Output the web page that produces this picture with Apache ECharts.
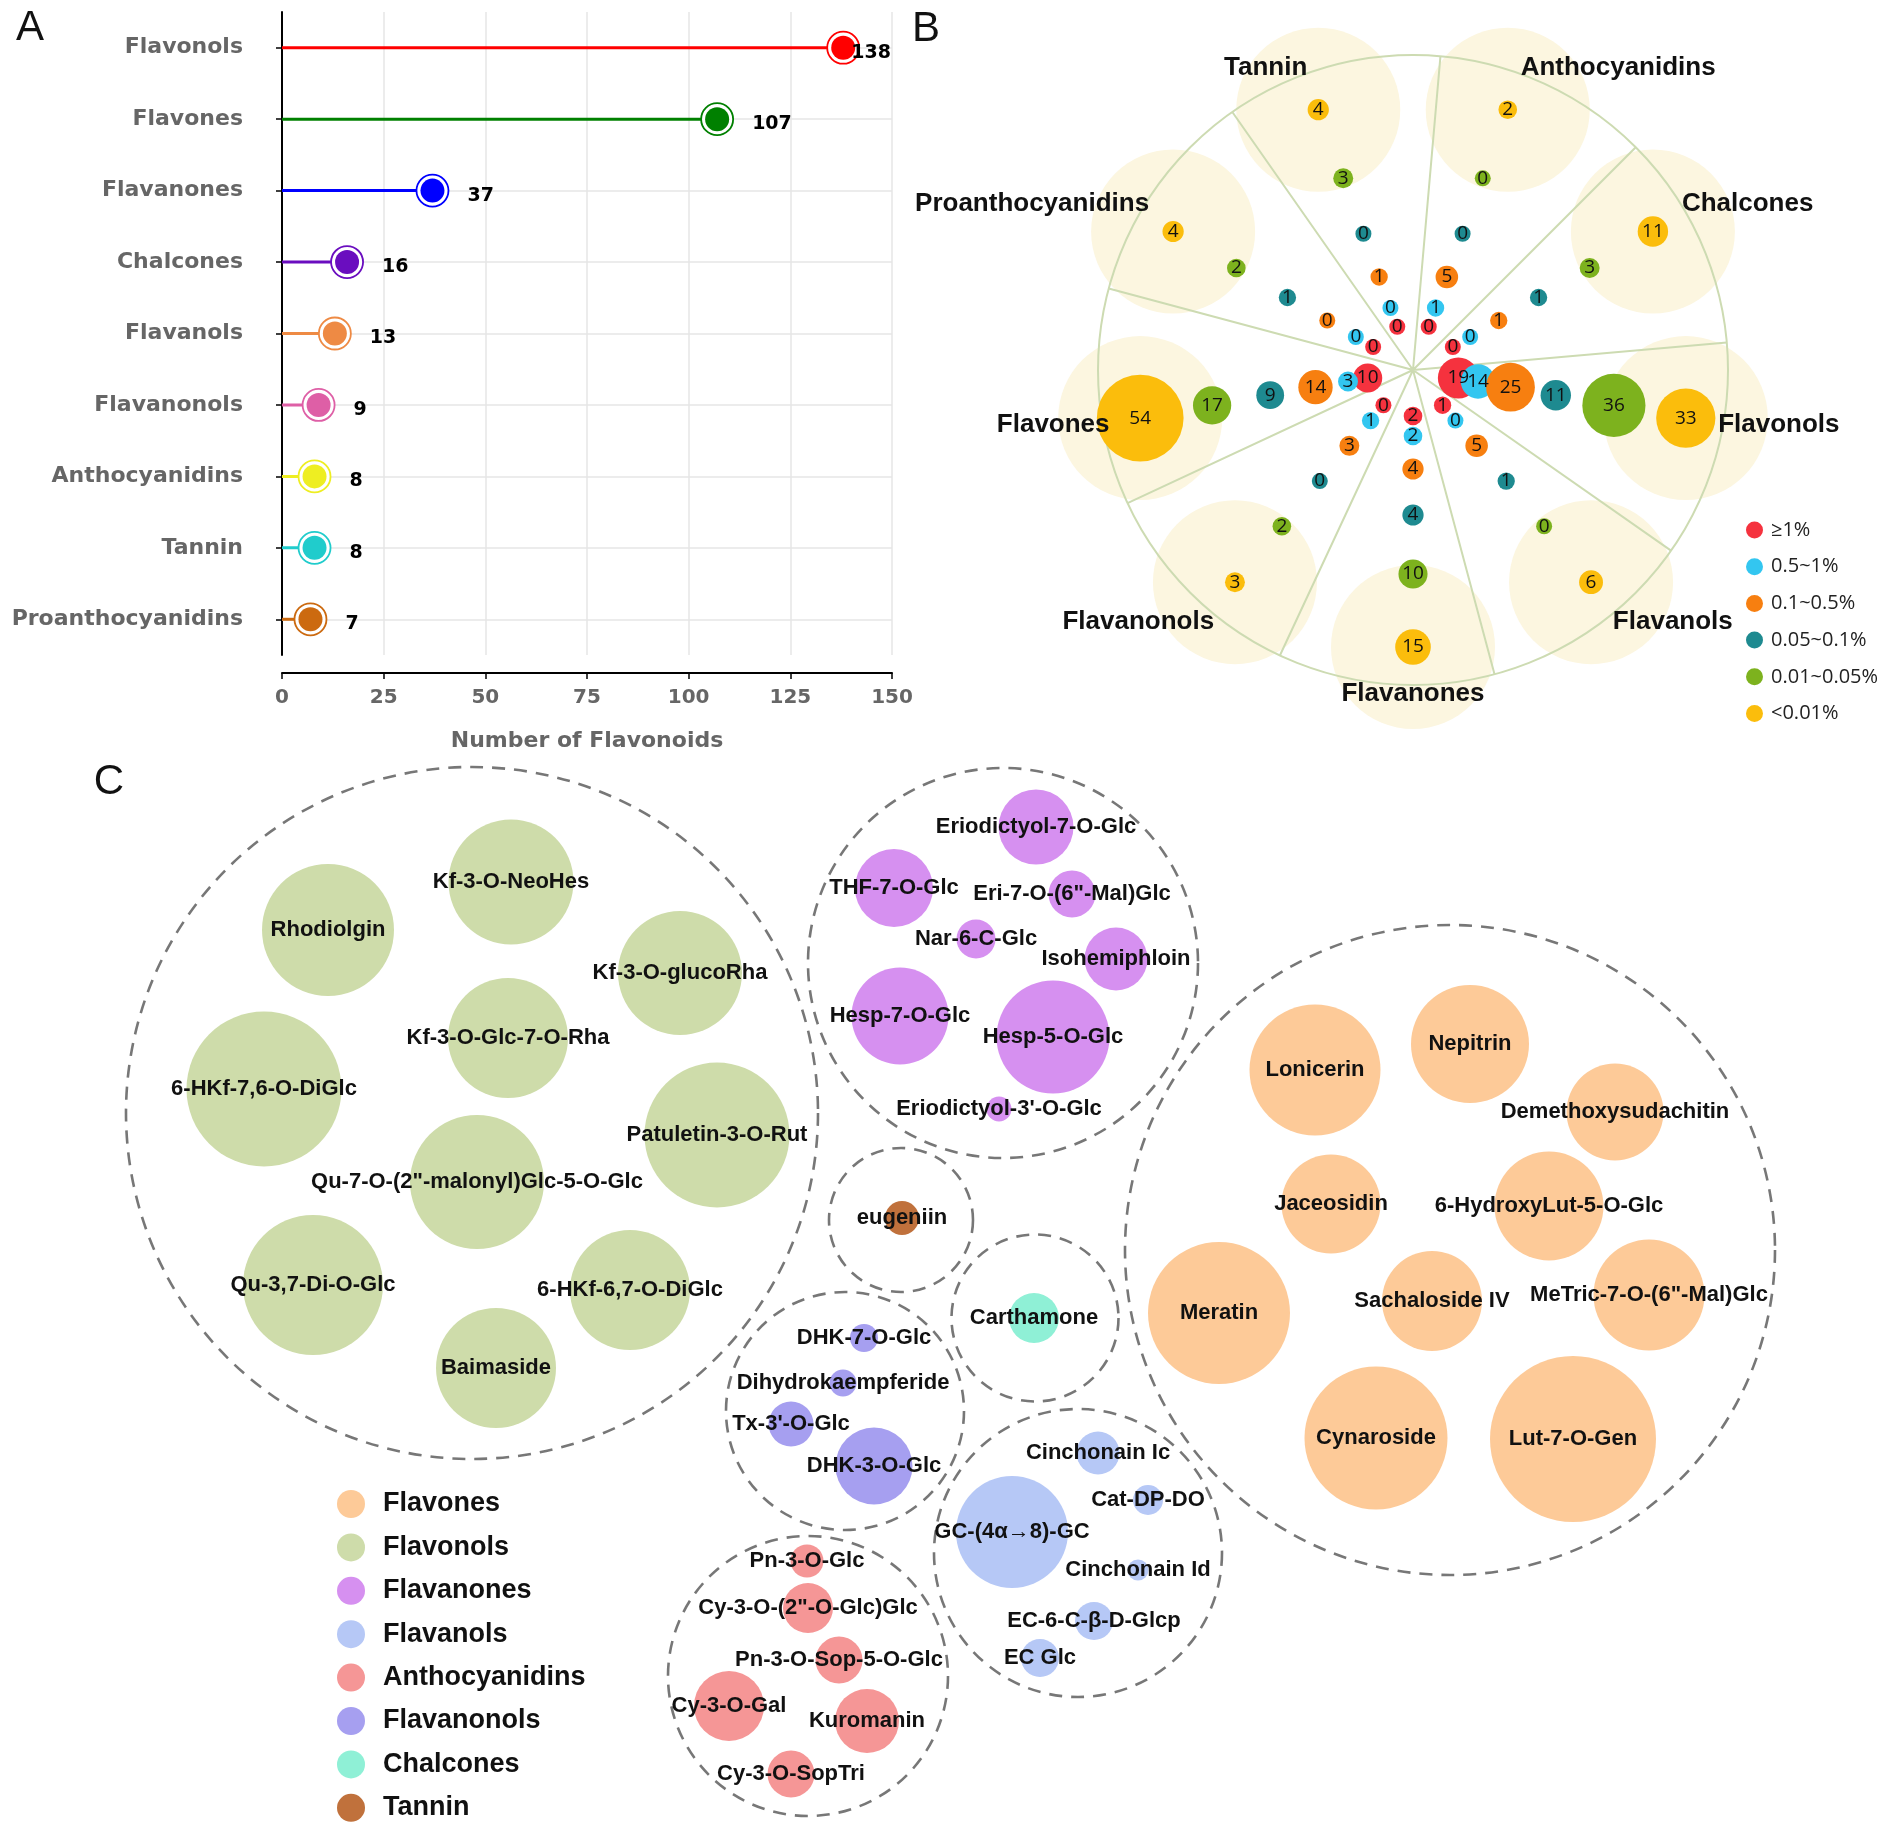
<!DOCTYPE html>
<html><head><meta charset="utf-8">
<script src="https://cdn.jsdelivr.net/npm/echarts@6/dist/echarts.min.js"></script>
<style>html,body{margin:0;padding:0;background:#fff}#c{width:1902px;height:1825px}</style>
</head><body><div id="c"></div>
<script>
// ---------- Panel A data ----------
const catsA = ['Flavonols','Flavones','Flavanones','Chalcones','Flavanols','Flavanonols','Anthocyanidins','Tannin','Proanthocyanidins'];
const countsA = [138,107,37,16,13,9,8,8,7];
const colorsA = ['#ff0000','#008000','#0000ff','#6a0dbf','#ee8a44','#de5fa6','#eeee22','#20cccc','#cc6a10'];
const xTicksA = [0,25,50,75,100,125,150];

// ---------- Panel B data (category order around the circle) ----------
const catsB = ['Chalcones','Anthocyanidins','Tannin','Proanthocyanidins','Flavones','Flavanonols','Flavanones','Flavanols','Flavonols'];
const levelsB = ['≥1%','0.5~1%','0.1~0.5%','0.05~0.1%','0.01~0.05%','<0.01%'];
const bGe1      = [0,0,0,0,10,0,2,1,19];
const b05to1    = [0,1,0,0,3,1,2,0,14];
const b01to05   = [1,5,1,0,14,3,4,5,25];
const b005to01  = [1,0,0,1,9,0,4,1,11];
const b001to005 = [3,0,3,2,17,2,10,0,36];
const bLt001    = [11,2,4,4,54,3,15,6,33];
const levelData = [bGe1,b05to1,b01to05,b005to01,b001to005,bLt001];
const levelColors = ['#f5323e','#33c6f0','#f77f10','#1e8a90','#7db21e','#fbbd0c'];

// ---------- Panel C data ----------
const cGroups = ['Flavones','Flavonols','Flavanones','Flavanols','Anthocyanidins','Flavanonols','Chalcones','Tannin'];
const cColors = ['#fdca98','#cedcaa','#d690f0','#b6c8f6','#f59696','#a69ff0','#8ff0d6','#c0713c'];
const cFlavones = ['Lonicerin','Nepitrin','Demethoxysudachitin','Jaceosidin','6-HydroxyLut-5-O-Glc','Meratin','Sachaloside IV','MeTric-7-O-(6"-Mal)Glc','Cynaroside','Lut-7-O-Gen'];
const cFlavonesSize = [131,118,97,99,109,142,100,111,143,166];
const cFlavonols = ['Rhodiolgin','Kf-3-O-NeoHes','Kf-3-O-glucoRha','Kf-3-O-Glc-7-O-Rha','6-HKf-7,6-O-DiGlc','Patuletin-3-O-Rut','Qu-7-O-(2"-malonyl)Glc-5-O-Glc','Qu-3,7-Di-O-Glc','6-HKf-6,7-O-DiGlc','Baimaside'];
const cFlavonolsSize = [132,125,124,120,155,145,134,140,120,120];
const cFlavanones = ['Eriodictyol-7-O-Glc','THF-7-O-Glc','Eri-7-O-(6"-Mal)Glc','Nar-6-C-Glc','Isohemiphloin','Hesp-7-O-Glc','Hesp-5-O-Glc',"Eriodictyol-3'-O-Glc"];
const cFlavanonesSize = [75,78,47,39,63,97,113,25];
const cFlavanols = ['Cinchonain Ic','Cat-DP-DO','GC-(4α→8)-GC','Cinchonain Id','EC-6-C-β-D-Glcp','EC Glc'];
const cFlavanolsSize = [43,30,112,21,38,38];
const cAnthocyanidins = ['Pn-3-O-Glc','Cy-3-O-(2"-O-Glc)Glc','Pn-3-O-Sop-5-O-Glc','Cy-3-O-Gal','Kuromanin','Cy-3-O-SopTri'];
const cAnthocyanidinsSize = [33,50,47,70,64,47];
const cFlavanonols = ['DHK-7-O-Glc','Dihydrokaempferide',"Tx-3'-O-Glc",'DHK-3-O-Glc'];
const cFlavanonolsSize = [28,27,45,77];
const cChalcones = ['Carthamone'];
const cChalconesSize = [50];
const cTannin = ['eugeniin'];
const cTanninSize = [34];

// ---------- layout (packed positions) ----------
const cFlavonesPos = [[1315,1070],[1470,1044],[1615,1112],[1331,1204],[1549,1206],[1219,1313],[1432,1301],[1649,1295],[1376,1438],[1573,1439]];
const cFlavonolsPos = [[328,930],[511,882],[680,973],[508,1038],[264,1089],[717,1135],[477,1182],[313,1285],[630,1290],[496,1368]];
const cFlavanonesPos = [[1036,827],[894,888],[1072,894],[976,939],[1116,959],[900,1016],[1053,1037],[999,1109]];
const cFlavanolsPos = [[1098,1453],[1148,1500],[1012,1532],[1138,1570],[1094,1621],[1040,1658]];
const cAnthocyanidinsPos = [[807,1561],[808,1608],[839,1660],[729,1706],[867,1721],[791,1774]];
const cFlavanonolsPos = [[864,1338],[843,1383],[791,1424],[874,1466]];
const cChalconesPos = [[1034,1318]];
const cTanninPos = [[902,1218]];
const cGroupPos = [[1450,1250],[472,1113],[1003,963],[1078,1553],[808,1676],[845,1411],[1035,1318],[901,1220]];
const cGroupDiam = [650,692,390,288,280,238,167,144];

const cNames = [cFlavones,cFlavonols,cFlavanones,cFlavanols,cAnthocyanidins,cFlavanonols,cChalcones,cTannin];
const cSizes = [cFlavonesSize,cFlavonolsSize,cFlavanonesSize,cFlavanolsSize,cAnthocyanidinsSize,cFlavanonolsSize,cChalconesSize,cTanninSize];
const cPos = [cFlavonesPos,cFlavonolsPos,cFlavanonesPos,cFlavanolsPos,cAnthocyanidinsPos,cFlavanonolsPos,cChalconesPos,cTanninPos];

// polar layout for panel B
const PC = [1413, 370], PR = 315;
const ringPos = [46, 66, 99, 145, 204, 277];
const angOf = k => 40 * k + 25;
const labelPosB = [[373.6,21.4],[365,50.8],[336,111],[415.7,151.4],[364,183.7],[372.6,217.5],[323.6,265],[361.8,310.9],[370,346.4]];

const chart = echarts.init(document.getElementById('c'), null, {renderer: 'canvas'});
const fA = 'DejaVu Sans';
const series = [];

// Panel A
series.push({
  type: 'bar', name: 'A-line', xAxisIndex: 0, yAxisIndex: 0, barWidth: 3, z: 2, silent: true,
  data: countsA.map((v, i) => ({value: v, itemStyle: {color: colorsA[i]}})),
  markLine: {silent: true, z: 1, symbol: ['none','none'], label: {show: false},
    lineStyle: {color: '#e6e6e6', width: 1.5, type: 'solid'},
    emphasis: {disabled: true},
    data: catsA.map(c => ({yAxis: c}))}
});
series.push({
  type: 'scatter', name: 'A-ring', xAxisIndex: 0, yAxisIndex: 0, z: 3, silent: true, symbolSize: 32,
  data: countsA.map((v, i) => ({value: [v, i], itemStyle: {color: '#fff', borderColor: colorsA[i], borderWidth: 1.8, opacity: 1}}))
});
series.push({
  type: 'scatter', name: 'A-dot', xAxisIndex: 0, yAxisIndex: 0, z: 4, silent: true, symbolSize: 24,
  label: {show: true, position: 'right', distance: 23, offset: [0, 5], formatter: p => String(p.value[0]),
    fontFamily: fA, fontWeight: 'bold', fontSize: 19, color: '#000'},
  data: countsA.map((v, i) => {
    const d = {value: [v, i], itemStyle: {color: colorsA[i], opacity: 1}};
    if (v === Math.max(...countsA)) d.label = {offset: [-27, 5]};
    return d;
  })
});

// Panel B
series.push({
  type: 'scatter', name: 'bgB', coordinateSystem: 'polar', polarIndex: 0, z: 1, silent: true, symbolSize: 164,
  itemStyle: {color: '#fcf6e0', opacity: 1},
  data: catsB.map((c, k) => [ringPos[5], angOf(k)])
});
levelsB.forEach((lv, l) => {
  series.push({
    type: 'scatter', name: lv, coordinateSystem: 'polar', polarIndex: 0, z: 3, silent: true,
    itemStyle: {color: levelColors[l], opacity: 1},
    symbolSize: (val, p) => 16 + 1.31 * p.data.cnt,
    label: {show: true, position: 'inside', formatter: p => String(p.data.cnt),
      fontFamily: 'Open Sans', fontSize: 19, color: '#111'},
    data: levelData[l].map((v, k) => ({value: [ringPos[l], angOf(k)], cnt: v}))
  });
});

// Panel C
cGroups.forEach((g, i) => {
  series.push({
    type: 'scatter', name: g, xAxisIndex: 1, yAxisIndex: 1, z: 3, silent: true,
    itemStyle: {color: cColors[i], opacity: 1},
    symbolSize: (val, p) => p.data.d,
    label: {show: true, position: 'inside', formatter: p => p.data.name,
      fontFamily: 'Liberation Sans', fontWeight: 'bold', fontSize: 22, color: '#111'},
    data: cNames[i].map((n, j) => ({name: n, value: cPos[i][j], d: cSizes[i][j]}))
  });
});
series.push({
  type: 'scatter', name: 'groupsC', xAxisIndex: 1, yAxisIndex: 1, z: 2, silent: true,
  symbolSize: (val, p) => p.data.d,
  itemStyle: {color: 'rgba(255,255,255,0)', borderColor: '#777', borderWidth: 2.6, borderType: [13, 9], opacity: 1},
  data: cGroups.map((g, i) => ({value: cGroupPos[i], d: cGroupDiam[i]}))
});

const graphic = [
  {type: 'text', x: 30, y: 28, style: {text: 'A', font: '42px "Liberation Sans"', fill: '#111', textAlign: 'center', textVerticalAlign: 'middle'}},
  {type: 'text', x: 926, y: 29, style: {text: 'B', font: '42px "Liberation Sans"', fill: '#111', textAlign: 'center', textVerticalAlign: 'middle'}},
  {type: 'text', x: 109, y: 782, style: {text: 'C', font: '42px "Liberation Sans"', fill: '#111', textAlign: 'center', textVerticalAlign: 'middle'}}
];
catsB.forEach((c, k) => {
  const r = labelPosB[k][0], a = (labelPosB[k][1] + 5) * Math.PI / 180;
  graphic.push({type: 'text', x: PC[0] + r * Math.cos(a), y: PC[1] - r * Math.sin(a), z: 10,
    style: {text: c, font: 'bold 26px "Liberation Sans"', fill: '#111', textAlign: 'center', textVerticalAlign: 'middle'}});
});

const option = {
  backgroundColor: '#fff',
  animation: false,
  grid: [
    {left: 282, top: 12, width: 610, height: 643},
    {left: 0, top: 0, right: 0, bottom: 0}
  ],
  xAxis: [
    {type: 'value', gridIndex: 0, min: xTicksA[0], max: xTicksA[xTicksA.length - 1], interval: 25, offset: 18,
      axisLine: {show: true, lineStyle: {color: '#000', width: 2}},
      axisTick: {show: true, length: 6, lineStyle: {color: '#000', width: 1.5}},
      axisLabel: {fontFamily: fA, fontWeight: 'bold', fontSize: 20, color: '#666', margin: 15},
      splitLine: {show: true, lineStyle: {color: '#e6e6e6', width: 1.5}},
      name: 'Number of Flavonoids', nameLocation: 'middle', nameGap: 57,
      nameTextStyle: {fontFamily: fA, fontWeight: 'bold', fontSize: 22, color: '#666'}},
    {type: 'value', gridIndex: 1, min: 0, max: 1902, show: false}
  ],
  yAxis: [
    {type: 'category', gridIndex: 0, data: catsA, inverse: true, offset: 17,
      axisLine: {show: true, lineStyle: {color: '#000', width: 2}},
      axisTick: {show: true, alignWithLabel: true, length: 6, lineStyle: {color: '#000', width: 1.5}},
      axisLabel: {fontFamily: fA, fontWeight: 'bold', fontSize: 22, color: '#666', margin: 22},
      splitLine: {show: false}},
    {type: 'value', gridIndex: 1, min: 0, max: 1825, inverse: true, show: false}
  ],
  polar: {center: PC, radius: PR},
  angleAxis: {type: 'value', min: 0, max: 360, interval: 40, startAngle: 5, clockwise: false, z: 2,
    axisLine: {show: true, lineStyle: {color: '#cddbb2', width: 2}},
    axisTick: {show: false}, axisLabel: {show: false},
    splitLine: {show: true, lineStyle: {color: '#cddbb2', width: 2}}},
  radiusAxis: {type: 'value', min: 0, max: PR, axisLine: {show: false}, axisTick: {show: false},
    axisLabel: {show: false}, splitLine: {show: false}},
  legend: [
    {data: levelsB, orient: 'vertical', left: 1746, top: 519, padding: 0, itemWidth: 17, itemHeight: 17, itemGap: 14.7,
      icon: 'circle', selectedMode: false,
      textStyle: {fontFamily: 'Open Sans', fontSize: 20, color: '#222', lineHeight: 22, padding: [0,0,0,3]}},
    {data: cGroups, orient: 'vertical', left: 337, top: 1490, height: 335, padding: 0, itemWidth: 28, itemHeight: 28, itemGap: 15.4,
      icon: 'circle', selectedMode: false,
      textStyle: {fontFamily: 'Liberation Sans', fontWeight: 'bold', fontSize: 27, color: '#111', lineHeight: 28, padding: [0,0,0,13]}}
  ],
  graphic: graphic,
  series: series
};
chart.setOption(option);
</script>
</body></html>
